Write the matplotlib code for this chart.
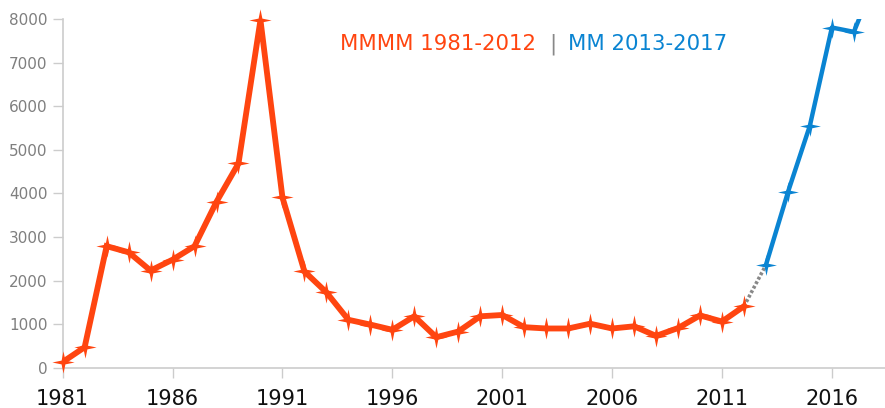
import matplotlib
matplotlib.use('Agg')
import matplotlib.pyplot as plt
from matplotlib.path import Path

# data
years_old = list(range(1981, 2013))
vals_old = [130, 470, 2790, 2650, 2230, 2480, 2790, 3810, 4690, 7980,
            3910, 2210, 1730, 1100, 990, 870, 1180, 700, 830, 1180,
            1210, 930, 900, 900, 1010, 900, 950, 730, 910, 1200,
            1060, 1410]
years_new = [2013, 2014, 2015, 2016, 2017, 2018]
vals_new = [2360, 4030, 5560, 7810, 7710, 8950]
xticks = [1981, 1986, 1991, 1996, 2001, 2006, 2011, 2016]
yticks = [0, 1000, 2000, 3000, 4000, 5000, 6000, 7000, 8000]

orange = '#ff4510'
blue = '#0a84d2'
grey = '#888888'

# 4-pointed star marker
w = 0.17
star = Path([(0, 1), (w, w), (1, 0), (w, -w), (0, -1), (-w, -w), (-1, 0), (-w, w), (0, 1)],
            [Path.MOVETO] + [Path.LINETO] * 7 + [Path.CLOSEPOLY])

fig = plt.figure(figsize=(8.85, 4.08), dpi=100)
ax = fig.add_axes([0.0708, 0.0988, 0.935, 0.854])

# link between the two periods
ax.plot([years_old[-1], years_new[0]], [vals_old[-1], vals_new[0]], color=grey,
        lw=2.6, ls=(0, (0.8, 0.6)), zorder=2)

ax.plot(years_old, vals_old, color=orange, lw=4.2, solid_joinstyle='miter', zorder=3)
ax.plot(years_old, vals_old, ls='none', marker=star, ms=16, color=orange,
        mew=0, clip_on=False, zorder=4)

ax.plot(years_new, vals_new, color=blue, lw=3.2, zorder=3)
ax.plot(years_new[:-1], vals_new[:-1], ls='none', marker=star, ms=15, color=blue,
        mew=0, clip_on=False, zorder=4)

ax.set_xlim(1981, 2018.65)
ax.set_ylim(0, 8000)
ax.set_xticks(xticks)
ax.set_yticks(yticks)
ax.set_xticklabels([str(x) for x in xticks], fontsize=15, color='#111111')
ax.set_yticklabels([str(y) for y in yticks], fontsize=11, color='#7f7f7f')
ax.tick_params(axis='x', length=7, width=1, color='#cccccc', pad=8)
ax.tick_params(axis='y', length=7, width=1, color='#cccccc', pad=4)

for side in ['top', 'right']:
    ax.spines[side].set_visible(False)
for side in ['left', 'bottom']:
    ax.spines[side].set_color('#cccccc')
    ax.spines[side].set_linewidth(1.2)

# coloured title made of three pieces
ty = 1 - 44 / 408
fig.text(340 / 885, ty, 'MMMM 1981-2012', color=orange, fontsize=15.3, va='center', ha='left')
fig.text(553 / 885, ty, '|', color=grey, fontsize=15.3, va='center', ha='center')
fig.text(568 / 885, ty, 'MM 2013-2017', color=blue, fontsize=15.3, va='center', ha='left')

fig.savefig('out.png', dpi=100)
